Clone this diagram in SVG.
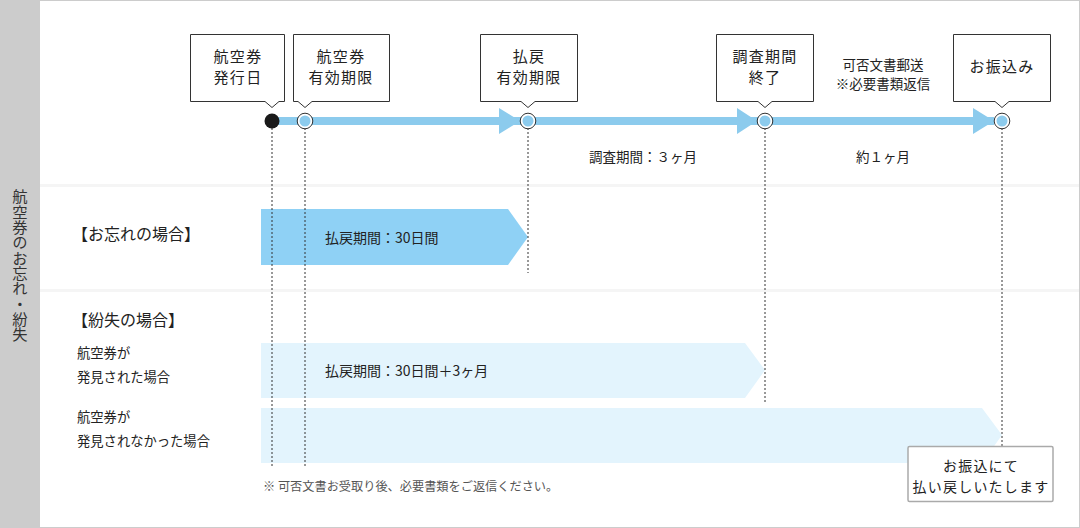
<svg xmlns="http://www.w3.org/2000/svg" width="1080" height="528" viewBox="0 0 1080 528">
<style>
text{font-family:"Noto Sans CJK JP","Noto Sans",sans-serif;fill:#222}
.box{fill:#fff;stroke:#333;stroke-width:1}
.bt{font-size:15px;text-anchor:middle;letter-spacing:1.3px}
.lbl{font-size:13.5px;text-anchor:middle}
.dash{stroke:#333;stroke-width:1;stroke-dasharray:2 2;fill:none}
.dot{fill:#8ccbed;stroke:#fff;stroke-width:2}
.ring{fill:none;stroke:#333;stroke-width:1}
.tl{fill:#8ccbed}
.sm{font-size:13.3px}
.hd{font-size:16px}
</style>
<rect x="0.5" y="0.5" width="1079" height="527" fill="#fff" stroke="#ccc" stroke-width="1"/>
<rect x="0" y="0" width="40" height="528" fill="#ccc"/>
<rect x="40" y="184" width="1039" height="3" fill="#f5f5f5"/>
<rect x="40" y="289" width="1039" height="3" fill="#f5f5f5"/>
<text x="20" y="189" writing-mode="tb" style="font-size:15.3px;fill:#333">航空券のお忘れ・紛失</text>

<g id="bars">
<polygon points="261,209 508,209 528,237 508,265 261,265" fill="#8fd1f5"/>
<polygon points="261,343 745,343 765,370 745,398 261,398" fill="#e3f4fd"/>
<polygon points="261,408 982,408 1002,435 982,463 261,463" fill="#e3f4fd"/>
</g>

<g id="connectors">
<line class="dash" x1="272" y1="128" x2="272" y2="468"/>
<line class="dash" x1="305" y1="128" x2="305" y2="468"/>
<line class="dash" x1="528" y1="128" x2="528" y2="273"/>
<line class="dash" x1="765" y1="128" x2="765" y2="403"/>
<line class="dash" x1="1002" y1="128" x2="1002" y2="446"/>
<rect class="tl" x="272" y="117" width="722" height="8"/>
<polygon class="tl" points="499,108 520,121 499,134"/>
<polygon class="tl" points="737,108 757,121 737,134"/>
<polygon class="tl" points="973,108 994,121 973,134"/>
</g>

<g id="n1">
<path class="box" d="M190.5,34.5 H284.5 V101.5 H279 L272,107.5 L265,101.5 H190.5 Z"/>
<text class="bt" x="238" y="62">航空券</text>
<text class="bt" x="238" y="83">発行日</text>
<circle cx="272" cy="121" r="7.5" fill="#1a1a1a"/>
</g>
<g id="n2">
<path class="box" d="M293.5,34.5 H389.5 V101.5 H312 L305,107.5 L298,101.5 H293.5 Z"/>
<text class="bt" x="341" y="62">航空券</text>
<text class="bt" x="341" y="83">有効期限</text>
<circle class="dot" cx="305" cy="121" r="6.5"/>
<circle class="ring" cx="305" cy="121" r="7.8"/>
</g>
<g id="n3">
<path class="box" d="M480.5,34.5 H577.5 V101.5 H535 L528,107.5 L521,101.5 H480.5 Z"/>
<text class="bt" x="529" y="62">払戻</text>
<text class="bt" x="529" y="83">有効期限</text>
<circle class="dot" cx="528" cy="121" r="6.5"/>
<circle class="ring" cx="528" cy="121" r="7.8"/>
</g>
<g id="n4">
<path class="box" d="M716.5,34.5 H813.5 V101.5 H772 L765,107.5 L758,101.5 H716.5 Z"/>
<text class="bt" x="765" y="62">調査期間</text>
<text class="bt" x="765" y="83">終了</text>
<circle class="dot" cx="765" cy="121" r="6.5"/>
<circle class="ring" cx="765" cy="121" r="7.8"/>
</g>
<g id="n5">
<path class="box" d="M953.5,34.5 H1050.5 V101.5 H1009 L1002,107.5 L995,101.5 H953.5 Z"/>
<text class="bt" x="1002" y="72">お振込み</text>
<circle class="dot" cx="1002" cy="121" r="6.5"/>
<circle class="ring" cx="1002" cy="121" r="7.8"/>
</g>

<g id="labels">
<text class="lbl" x="883" y="70">可否文書郵送</text>
<text class="lbl" x="883" y="89">※必要書類返信</text>
<text class="lbl" x="643" y="162">調査期間：３ヶ月</text>
<text class="lbl" x="883" y="162">約１ヶ月</text>
<text class="hd" x="72" y="240">【お忘れの場合】</text>
<text style="font-size:14px" x="325" y="243">払戻期間：30日間</text>
<text class="hd" x="72" y="326">【紛失の場合】</text>
<text class="sm" x="77" y="358">航空券が</text>
<text class="sm" x="77" y="382">発見された場合</text>
<text style="font-size:14px" x="325" y="376">払戻期間：30日間＋3ヶ月</text>
<text class="sm" x="77" y="422">航空券が</text>
<text class="sm" x="77" y="446">発見されなかった場合</text>
<text x="263" y="491" style="font-size:12.2px;fill:#555">※ 可否文書お受取り後、必要書類をご返信ください。</text>
</g>

<g id="n6">
<rect x="908" y="446.5" width="145" height="55" rx="1.5" fill="#fff" stroke="#aaa" stroke-width="1.5"/>
<text x="981" y="471" style="font-size:14px;text-anchor:middle;letter-spacing:1.2px">お振込にて</text>
<text x="981" y="492" style="font-size:14px;text-anchor:middle;letter-spacing:1.2px">払い戻しいたします</text>
</g>
</svg>
